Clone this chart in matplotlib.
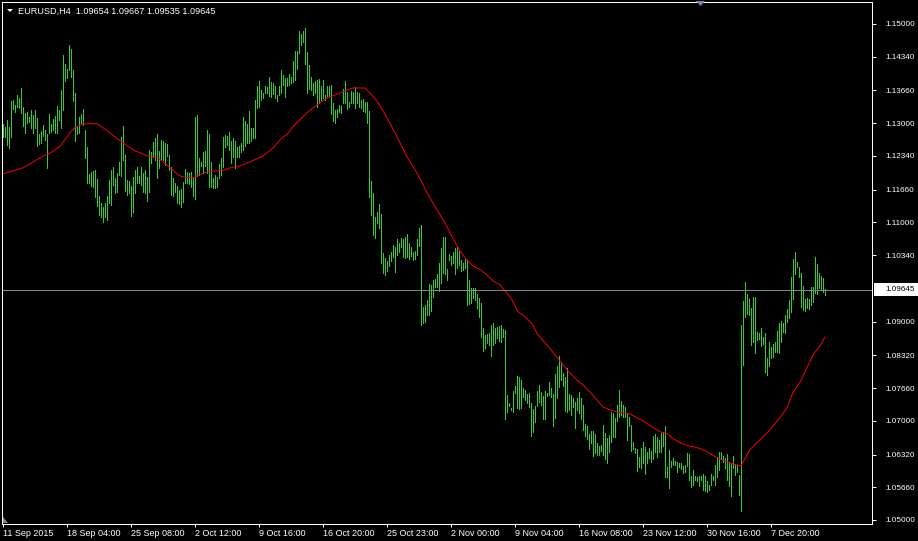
import matplotlib
matplotlib.use("Agg")
import matplotlib.pyplot as plt
from matplotlib.patches import Polygon, Rectangle
import numpy as np

plt.rcParams['font.family'] = ['Liberation Sans', 'DejaVu Sans']

symbol = "EURUSD,H4"
last_ohlc = [1.09654, 1.09667, 1.09535, 1.09645]

# H4 bar highs / lows, in pips above 1.0000
high_pips = [
    1299, 1293, 1307, 1293, 1345, 1347, 1337, 1357, 1351, 1371,
    1333, 1321, 1323, 1313, 1327, 1317, 1327, 1311, 1279, 1285,
    1297, 1287, 1279, 1319, 1299, 1309, 1315, 1335, 1327, 1367,
    1438, 1420, 1410, 1458, 1450, 1408, 1361, 1293, 1313, 1319,
    1329, 1287, 1253, 1198, 1202, 1204, 1206, 1188, 1154, 1140,
    1132, 1140, 1154, 1186, 1206, 1212, 1190, 1200, 1222, 1273,
    1295, 1236, 1186, 1184, 1174, 1192, 1206, 1212, 1194, 1212,
    1200, 1206, 1192, 1246, 1242, 1263, 1271, 1279, 1244, 1267,
    1265, 1261, 1259, 1236, 1212, 1190, 1180, 1174, 1166, 1168,
    1182, 1208, 1202, 1200, 1202, 1190, 1313, 1317, 1230, 1222,
    1242, 1244, 1287, 1279, 1222, 1190, 1196, 1192, 1218, 1230,
    1273, 1277, 1275, 1283, 1265, 1271, 1265, 1253, 1255, 1261,
    1313, 1305, 1299, 1325, 1291, 1291, 1347, 1375, 1386, 1367,
    1361, 1375, 1373, 1394, 1384, 1382, 1375, 1357, 1375, 1408,
    1398, 1392, 1392, 1400, 1394, 1426, 1446, 1446, 1486, 1480,
    1486, 1492, 1444, 1418, 1394, 1382, 1386, 1388, 1390, 1375,
    1388, 1357, 1375, 1375, 1378, 1341, 1327, 1329, 1337, 1335,
    1369, 1386, 1363, 1343, 1365, 1363, 1373, 1363, 1361, 1347,
    1349, 1343, 1343, 1325, 1184, 1160, 1111, 1121, 1138, 1117,
    1039, 1029, 1023, 1035, 1041, 1055, 1051, 1067, 1059, 1069,
    1067, 1071, 1077, 1059, 1051, 1041, 1043, 1067, 1089, 1095,
    930, 934, 944, 976, 974, 984, 986, 996, 1019, 1049,
    1071, 1071, 1007, 1037, 1033, 1041, 1049, 1051, 1043, 1025,
    1019, 1027, 1025, 984, 968, 968, 968, 956, 948, 938,
    888, 873, 875, 878, 894, 898, 888, 890, 892, 894,
    886, 884, 753, 736, 726, 761, 771, 791, 789, 783,
    767, 763, 755, 757, 736, 724, 730, 761, 773, 759,
    750, 761, 757, 779, 767, 755, 795, 810, 830, 818,
    796, 788, 807, 755, 753, 745, 738, 745, 758, 745,
    732, 694, 690, 673, 679, 679, 673, 656, 650, 652,
    692, 676, 666, 672, 718, 716, 706, 732, 763, 740,
    732, 728, 716, 708, 692, 658, 646, 644, 628, 646,
    658, 648, 638, 646, 640, 670, 673, 668, 662, 676,
    678, 690, 607, 642, 619, 624, 619, 617, 615, 615,
    609, 611, 636, 634, 589, 601, 589, 587, 589, 589,
    593, 589, 579, 571, 593, 589, 611, 628, 638, 638,
    630, 625, 634, 617, 615, 630, 613, 611, 591, 894,
    942, 980, 956, 946, 928, 950, 950, 880, 878, 888,
    869, 878, 827, 859, 849, 855, 859, 882, 898, 902,
    898, 914, 926, 944, 990, 1027, 1041, 1021, 1011, 998,
    972, 946, 948, 946, 970, 970, 1031, 1017, 998, 992,
    988, 966.7,
]
low_pips = [
    1273, 1273, 1257, 1250, 1273, 1329, 1323, 1333, 1331, 1321,
    1295, 1281, 1301, 1303, 1291, 1281, 1291, 1255, 1259, 1261,
    1275, 1267, 1210, 1281, 1283, 1287, 1281, 1281, 1307, 1291,
    1327, 1386, 1392, 1408, 1394, 1345, 1265, 1279, 1281, 1299,
    1297, 1230, 1180, 1180, 1174, 1172, 1152, 1134, 1115, 1111,
    1101, 1111, 1105, 1140, 1136, 1176, 1160, 1162, 1196, 1194,
    1226, 1164, 1156, 1160, 1113, 1121, 1160, 1180, 1180, 1176,
    1162, 1160, 1144, 1162, 1220, 1232, 1226, 1190, 1210, 1228,
    1226, 1216, 1234, 1206, 1156, 1154, 1162, 1140, 1138, 1132,
    1142, 1180, 1180, 1178, 1172, 1154, 1148, 1194, 1196, 1214,
    1200, 1214, 1200, 1172, 1172, 1170, 1170, 1172, 1190, 1196,
    1212, 1253, 1257, 1246, 1220, 1232, 1210, 1232, 1232, 1242,
    1246, 1255, 1261, 1261, 1265, 1271, 1271, 1331, 1333, 1347,
    1351, 1361, 1361, 1355, 1353, 1359, 1351, 1345, 1357, 1361,
    1378, 1353, 1375, 1378, 1382, 1384, 1388, 1410, 1442, 1458,
    1464, 1420, 1361, 1369, 1367, 1357, 1361, 1333, 1341, 1347,
    1351, 1347, 1353, 1355, 1319, 1305, 1301, 1313, 1323, 1321,
    1341, 1341, 1329, 1333, 1341, 1341, 1331, 1341, 1333, 1331,
    1325, 1323, 1301, 1152, 1115, 1075, 1069, 1099, 1089, 1019,
    998, 994, 1003, 1013, 1023, 1031, 1000, 1035, 1041, 1051,
    1031, 1029, 1031, 1027, 1033, 1024, 1027, 1035, 1053, 894,
    898, 900, 914, 914, 922, 950, 970, 970, 962, 978,
    998, 996, 984, 1025, 1015, 1019, 996, 1009, 1015, 1003,
    1005, 1009, 934, 936, 938, 948, 944, 928, 909, 869,
    841, 847, 857, 853, 831, 853, 857, 867, 861, 859,
    869, 704, 718, 730, 722, 718, 757, 726, 724, 726,
    748, 742, 736, 728, 670, 678, 698, 730, 738, 732,
    704, 704, 750, 753, 748, 690, 706, 746, 769, 783,
    771, 720, 718, 722, 712, 728, 686, 722, 716, 704,
    682, 670, 664, 643, 655, 630, 636, 632, 632, 640,
    632, 623, 615, 638, 658, 668, 668, 700, 708, 712,
    708, 708, 662, 690, 640, 644, 636, 599, 607, 605,
    615, 593, 615, 625, 617, 623, 638, 628, 638, 638,
    650, 587, 587, 565, 607, 611, 611, 597, 607, 603,
    595, 597, 609, 581, 567, 571, 580, 578, 569, 581,
    561, 559, 557, 561, 571, 581, 571, 587, 601, 622,
    616, 605, 581, 569, 549, 605, 591, 597, 551, 519,
    813, 910, 916, 914, 853, 859, 836, 863, 865, 851,
    855, 799, 793, 811, 827, 829, 839, 839, 837, 859,
    880, 878, 900, 908, 920, 946, 996, 1011, 990, 930,
    924, 922, 928, 926, 934, 940, 958, 956, 968, 964,
    960, 953.5,
]

# moving average (red), read at these bar positions
ma_bar = [0, 10, 18.5, 23.5, 28.5, 33.5, 36, 40, 47, 50, 54.5, 57, 62, 66, 70,
          73.5, 77, 80, 83.5, 87, 89.5, 95, 98.5, 102, 107, 111, 113.5, 118.5,
          123.5, 130, 135, 139.5, 142, 145, 148.5, 152, 155, 158.5, 162, 166,
          168.5, 173.5, 175, 181, 182.5, 187, 192, 197, 202, 207, 212, 217, 221,
          223.5, 228.5, 232, 235, 238.5, 242, 245, 248.5, 251, 254.5, 257.5,
          261, 264.5, 267.5, 272, 276, 280, 283.5, 287, 290, 293.5, 297, 300,
          303.5, 307, 310, 313.5, 317, 320, 323.5, 328.5, 332, 335, 338.5, 342,
          345, 348.5, 352, 355, 358.5, 362, 365, 369, 373.5, 378.5, 383.5,
          388.5, 392, 395, 398.5, 402, 405, 408.5, 411]
ma_pips = [1198, 1210, 1230, 1240, 1253, 1281, 1291, 1299, 1299, 1291, 1277,
           1269, 1255, 1244, 1238, 1232, 1232, 1222, 1210, 1198, 1192, 1190,
           1196, 1202, 1204, 1206, 1210, 1214, 1222, 1234, 1250, 1271, 1277,
           1293, 1307, 1321, 1331, 1341, 1351, 1357, 1361, 1369, 1371, 1371,
           1365, 1345, 1311, 1273, 1232, 1200, 1160, 1125, 1099, 1079, 1042,
           1024, 1012, 1005, 994, 982, 974, 962, 944, 920, 910, 896, 873, 853,
           833, 813, 796, 782, 772, 758, 742, 728, 722, 718, 716, 714, 706,
           700, 690, 678, 674, 664, 656, 650, 648, 644, 638, 630, 623, 617,
           613, 609, 642, 662, 682, 706, 726, 757, 778, 807, 833, 851, 869]

time_labels = ["11 Sep 2015", "18 Sep 04:00", "25 Sep 08:00", "2 Oct 12:00",
               "9 Oct 16:00", "16 Oct 20:00", "25 Oct 23:00", "2 Nov 00:00",
               "9 Nov 04:00", "16 Nov 08:00", "23 Nov 12:00", "30 Nov 16:00",
               "7 Dec 20:00"]
label_bars = [0, 32, 64, 96, 128, 160, 192, 224, 256, 288, 320, 352, 384]
price_ticks = [1.15, 1.1434, 1.1366, 1.13, 1.1234, 1.1166, 1.11, 1.1034,
               1.09, 1.0832, 1.0766, 1.07, 1.0632, 1.0566, 1.05]

highs = 1 + np.array(high_pips) / 10000
lows = 1 + np.array(low_pips) / 10000
ma = 1 + np.array(ma_pips) / 10000
idx = np.arange(len(highs))

W, H = 918, 541
px = 0.72  # one pixel in points at dpi 100
bar_color = '#32CD32'
frame = 'white'

fig = plt.figure(figsize=(W / 100, H / 100), dpi=100, facecolor='black')
ax = fig.add_axes([2 / W, 17 / H, 870 / W, 522 / H])
ax.set_facecolor('black')

ax.vlines(idx, lows, highs, colors=bar_color, linewidth=px, antialiased=False)
ax.plot(ma_bar, ma, color='red', linewidth=0.95 * px, antialiased=True,
        solid_joinstyle='miter')
ax.axhline(last_ohlc[3], color='#778899', linewidth=px, antialiased=False)

ax.set_xlim(-0.5, 434.5)
ax.set_ylim(1.15 - 500 / 4960, 1.15 + 22 / 4960)

for s in ax.spines.values():
    s.set_color(frame)
    s.set_linewidth(px)

ax.yaxis.tick_right()
ax.set_yticks(price_ticks)
ax.set_yticklabels([f"{p:.5f}" for p in price_ticks])
ax.tick_params(axis='y', colors=frame, length=4 * px, width=px,
               labelsize=5.9, pad=6.5)
ax.set_xticks(label_bars)
ax.set_xticklabels(time_labels)
ax.tick_params(axis='x', colors=frame, length=3 * px, width=px,
               labelsize=6.5, pad=1.5)
for lbl in ax.get_xticklabels():
    lbl.set_horizontalalignment('left')


def fpos(x, y):
    return (x / W, 1 - y / H)


# current price box on the price scale
fig.add_artist(Rectangle(fpos(874, 296), 44 / W, 13 / H, transform=fig.transFigure,
                         facecolor='white', edgecolor='none'))
fig.text(885 / W, 1 - 289.5 / H, f"{last_ohlc[3]:.5f}", color='black',
         fontsize=5.9, va='center', ha='left')

# header
fig.add_artist(Polygon([fpos(7, 9), fpos(13, 9), fpos(10, 12)], closed=True,
                       transform=fig.transFigure, facecolor='white', edgecolor='none'))
fig.text(18 / W, 1 - 11 / H,
         symbol + "  " + " ".join(f"{v:.5f}" for v in last_ohlc),
         color='white', fontsize=6.6, va='center', ha='left')

# chart shift marker and scroll marker
fig.add_artist(Polygon([fpos(696, 1), fpos(705, 1), fpos(700.5, 6)], closed=True,
                       transform=fig.transFigure, facecolor='#778899', edgecolor='none'))
fig.add_artist(Polygon([fpos(3, 517), fpos(3, 523), fpos(8, 523)], closed=True,
                       transform=fig.transFigure, facecolor='#778899', edgecolor='none'))

fig.savefig("out.png", dpi=100, facecolor='black')
